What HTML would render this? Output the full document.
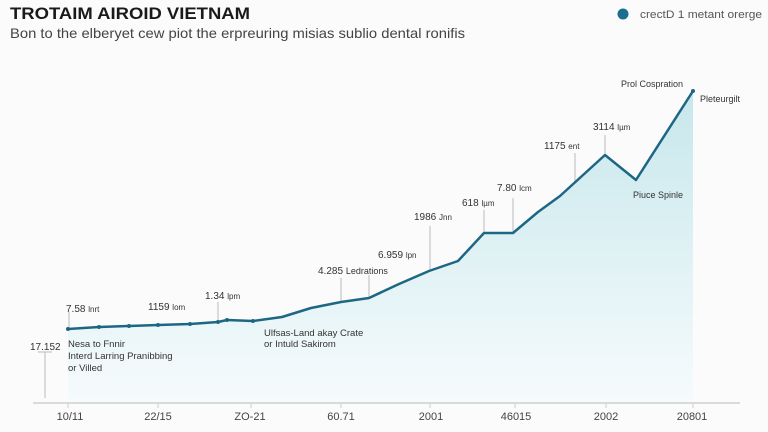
<!DOCTYPE html>
<html><head><meta charset="utf-8"><style>
html,body{margin:0;padding:0;background:#fbfbfb;}
svg{display:block;font-family:"Liberation Sans",sans-serif;}
</style></head><body>
<svg width="768" height="432" viewBox="0 0 768 432">
<defs><linearGradient id="g" x1="0" y1="0" x2="0" y2="1">
<stop offset="0" stop-color="#c7e7ec"/><stop offset="1" stop-color="#f6fbfc"/></linearGradient></defs>
<rect width="768" height="432" fill="#fbfbfb"/>
<text x="10" y="19" font-size="17" font-weight="bold" fill="#1a1a1a" textLength="240" lengthAdjust="spacingAndGlyphs">TROTAIM AIROID VIETNAM</text>
<text x="10" y="38" font-size="14" fill="#444" textLength="455" lengthAdjust="spacingAndGlyphs">Bon to the elberyet cew piot the erpreuring misias sublio dental ronifis</text>
<circle cx="623" cy="14" r="5.5" fill="#1a6f8e"/>
<text x="640" y="18" font-size="11" fill="#555" textLength="122" lengthAdjust="spacingAndGlyphs">crectD 1 metant orerge</text>
<path d="M68,329 L99,327 L129,326 L158,325 L190,324 L218,322 L227,320 L253,321 L282,317 L311,308 L341,302 L369,298 L399,284 L429,271 L458,261 L484,233 L513,233 L538,212 L560,196 L605,155 L636,180 L693,91 L693,403 L68,403 Z" fill="url(#g)"/>
<line x1="33" y1="403" x2="740" y2="403" stroke="#cfcfcf" stroke-width="1.5"/>
<g stroke="#bbb" stroke-width="1">
<line x1="45" y1="352" x2="45" y2="398"/><line x1="38" y1="352" x2="52" y2="352"/>
<line x1="69" y1="312" x2="69" y2="329"/>
<line x1="218" y1="302" x2="218" y2="322"/>
<line x1="341" y1="278" x2="341" y2="302"/>
<line x1="369" y1="275" x2="369" y2="298"/>
<line x1="430" y1="226" x2="430" y2="271"/>
<line x1="484" y1="210" x2="484" y2="233"/>
<line x1="513" y1="198" x2="513" y2="233"/>
<line x1="575" y1="153" x2="575" y2="183"/>
<line x1="605" y1="135" x2="605" y2="155"/>
<g stroke="#ccc"><line x1="68" y1="403" x2="68" y2="408"/><line x1="158" y1="403" x2="158" y2="408"/><line x1="251" y1="403" x2="251" y2="408"/><line x1="341" y1="403" x2="341" y2="408"/><line x1="430" y1="403" x2="430" y2="408"/><line x1="515" y1="403" x2="515" y2="408"/><line x1="606" y1="403" x2="606" y2="408"/><line x1="693" y1="403" x2="693" y2="408"/></g>
</g>
<polyline points="68,329 99,327 129,326 158,325 190,324 218,322 227,320 253,321 282,317 311,308 341,302 369,298 399,284 429,271 458,261 484,233 513,233 538,212 560,196 605,155 636,180 693,91" fill="none" stroke="#1d6784" stroke-width="2.5" stroke-linejoin="round"/>
<g fill="#1d6784"><circle cx="68" cy="329" r="2"/><circle cx="99" cy="327" r="2"/><circle cx="129" cy="326" r="2"/><circle cx="158" cy="325" r="2"/><circle cx="190" cy="324" r="2"/><circle cx="218" cy="322" r="2"/><circle cx="227" cy="320" r="2"/><circle cx="253" cy="321" r="2"/><circle cx="693" cy="91" r="2"/></g>
<g font-size="10" fill="#333">
<text x="66" y="312">7.58 <tspan font-size="8">lnrt</tspan></text>
<text x="148" y="310">1159 <tspan font-size="8">lom</tspan></text>
<text x="205" y="299">1.34 <tspan font-size="8">lpm</tspan></text>
<text x="30" y="350">17.152</text>
<text x="68" y="347" font-size="9.5">Nesa to Fnnir</text>
<text x="68" y="359" font-size="9.5">Interd Larring Pranibbing</text>
<text x="68" y="371" font-size="9.5">or Villed</text>
<text x="264" y="336" font-size="9.5">Ulfsas-Land akay Crate</text>
<text x="264" y="347" font-size="9.5">or Intuld Sakirom</text>
<text x="318" y="274">4.285 <tspan font-size="9">Ledrations</tspan></text>
<text x="378" y="258">6.959 <tspan font-size="8">lpn</tspan></text>
<text x="414" y="220">1986 <tspan font-size="8">Jnn</tspan></text>
<text x="462" y="206">618 <tspan font-size="8">lµm</tspan></text>
<text x="497" y="191">7.80 <tspan font-size="8">lcm</tspan></text>
<text x="544" y="149">1175 <tspan font-size="8">ent</tspan></text>
<text x="593" y="130">3114 <tspan font-size="8">lµm</tspan></text>
<text x="621" y="87" font-size="9">Prol Cosp<tspan>ration</tspan></text>
<text x="700" y="102" font-size="9">Pleteurgilt</text>
<text x="633" y="198" font-size="9">Piuce Spinle</text>
</g>
<g font-size="11" fill="#444" text-anchor="middle">
<text x="70" y="420">10/11</text><text x="158" y="420">22/15</text><text x="250" y="420">ZO-21</text><text x="341" y="420">60.71</text><text x="431" y="420">2001</text><text x="516" y="420">46015</text><text x="606" y="420">2002</text><text x="692" y="420">20801</text>
</g>
</svg>
</body></html>
